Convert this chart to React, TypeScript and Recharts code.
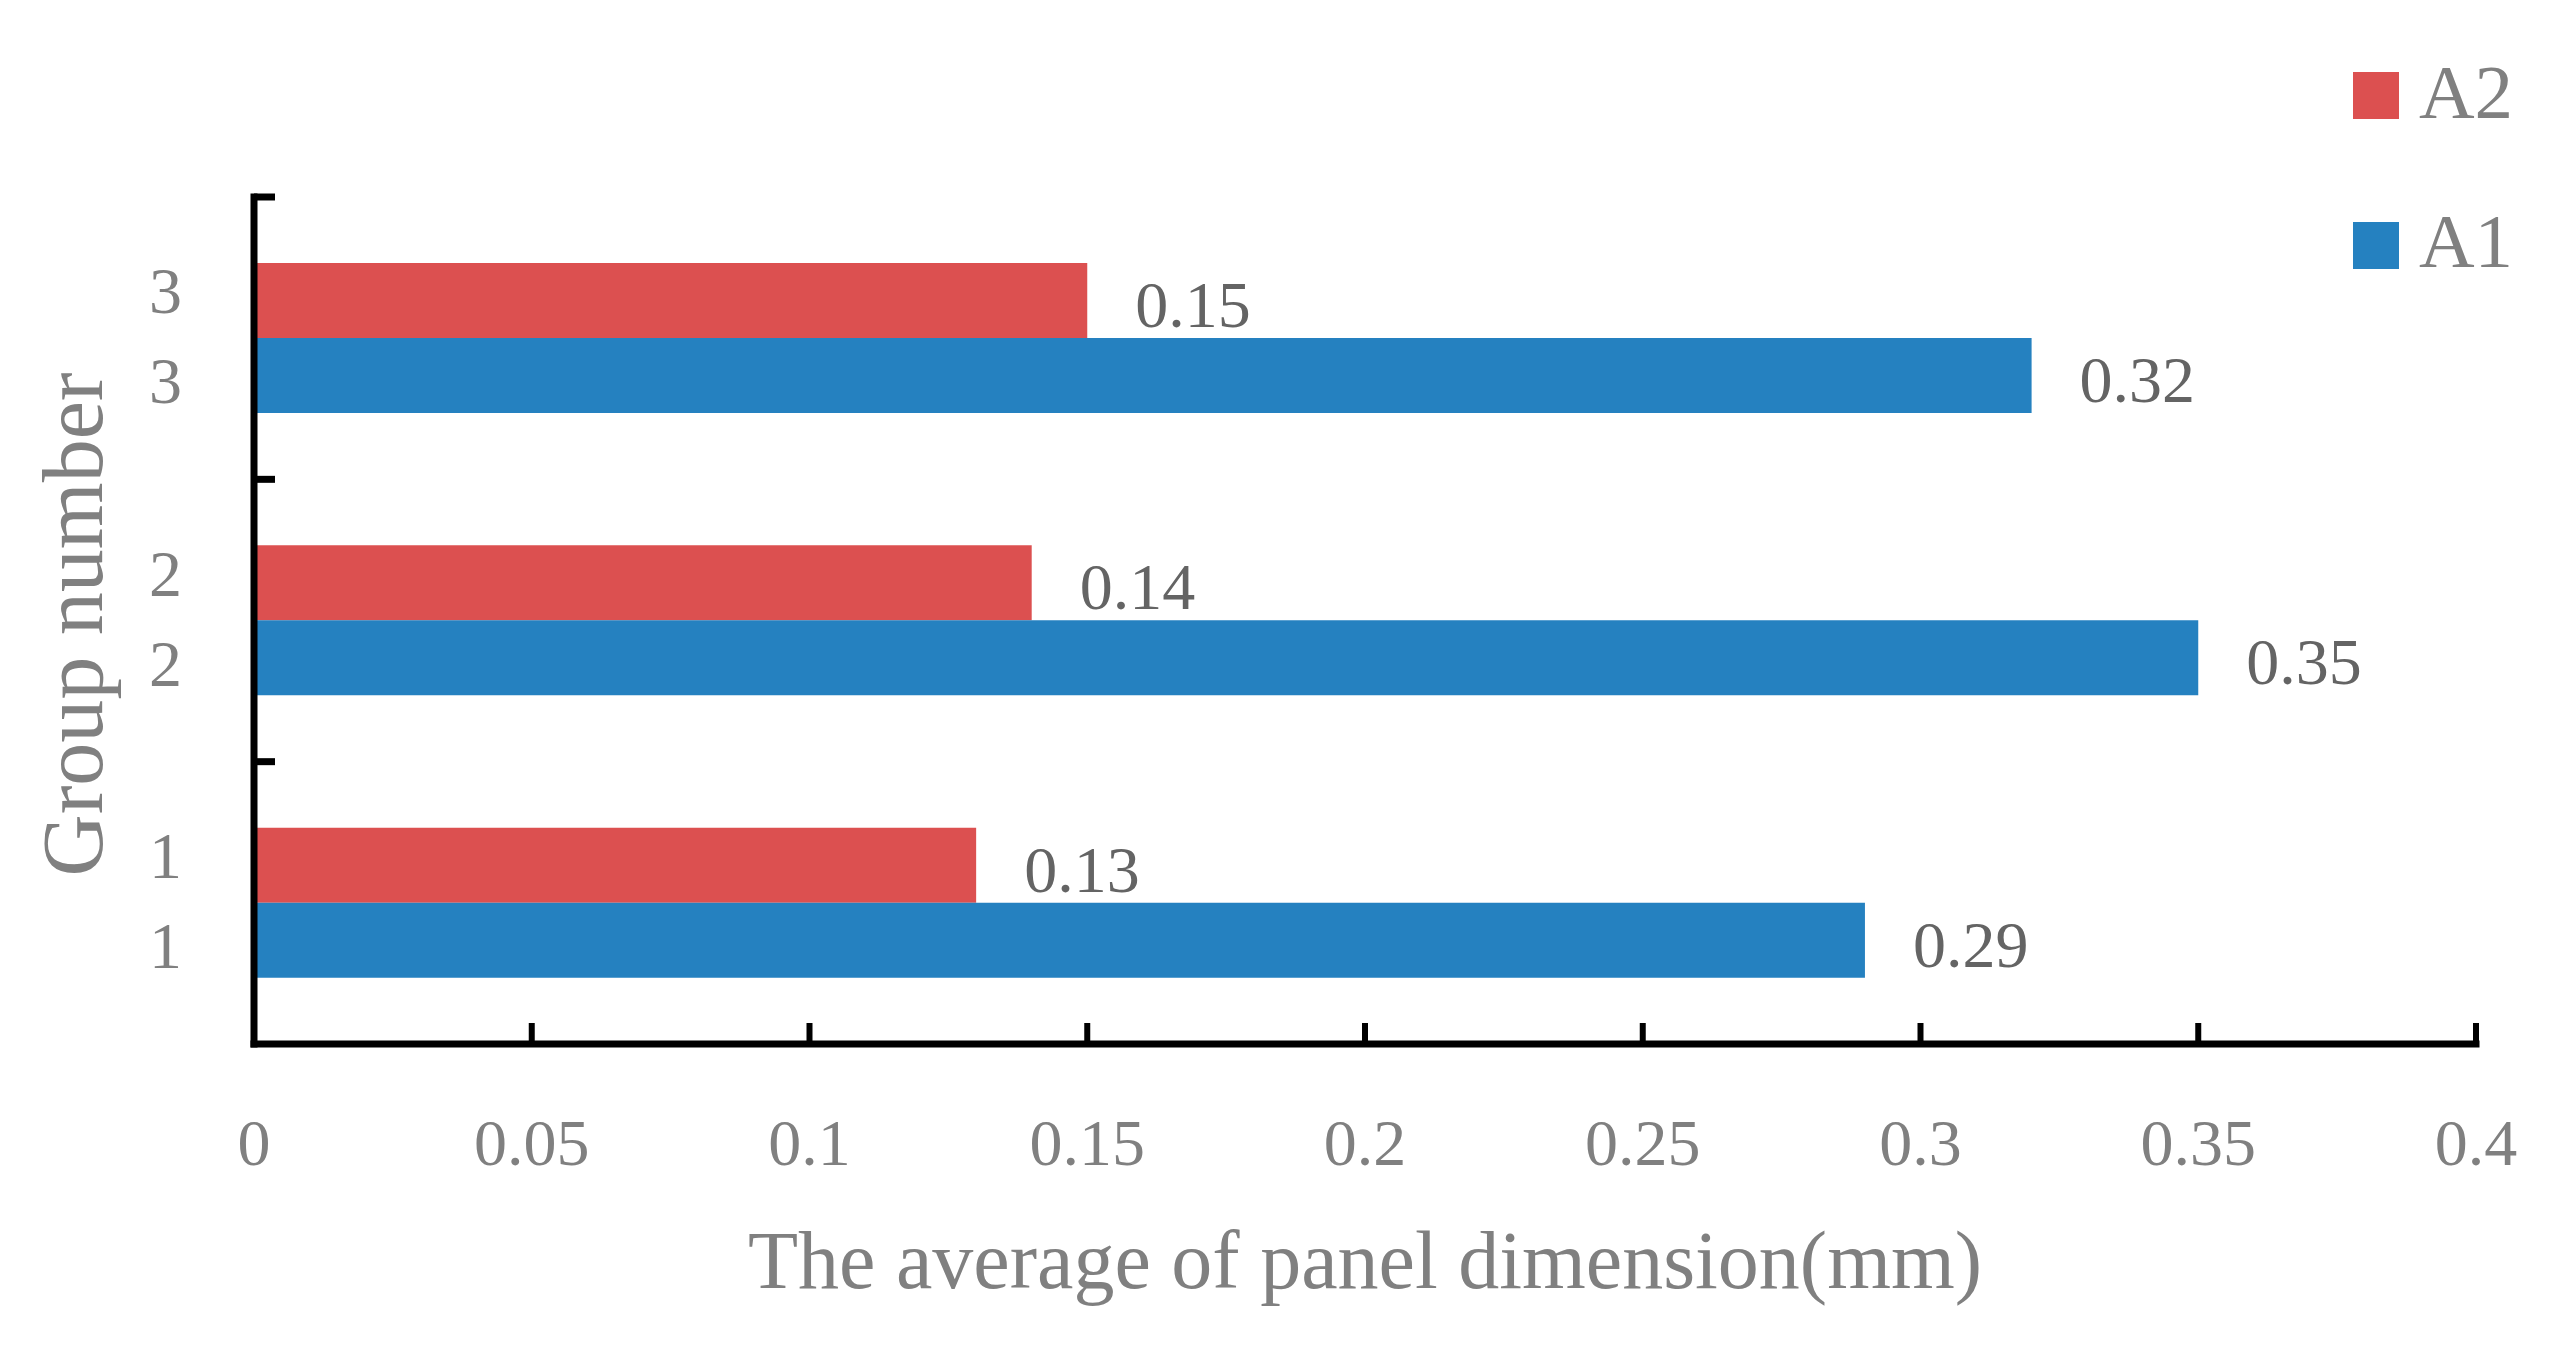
import React from 'react';
import { BarChart, Bar, XAxis, YAxis, LabelList } from 'recharts';

// group numbers, bottom to top
const groups = ['1', '2', '3'];
const a1Values = [0.29, 0.35, 0.32];
const a2Values = [0.13, 0.14, 0.15];
const xTicks = [0, 0.05, 0.1, 0.15, 0.2, 0.25, 0.3, 0.35, 0.4];
const seriesNames = ['A2', 'A1'];
const seriesColors = ['#DC5050', '#2581C0'];

const data = groups.map((g, i) => ({ group: g, A1: a1Values[i], A2: a2Values[i] }));

const FONT = '"Liberation Serif", "Times New Roman", serif';
const W = 2571;
const H = 1360;
const margin = { top: 197, right: 95, bottom: 0, left: 0 };
const yAxisWidth = 254;
const xAxisHeight = 316;
const plotHeight = H - margin.top - margin.bottom - xAxisHeight;
const band = plotHeight / groups.length;

function XTick(props: any) {
  const { x, y, payload } = props;
  return (
    <g>
      <line x1={x} x2={x} y1={y} y2={y - 21} stroke="#000" strokeWidth={6} />
      <text x={x} y={y + 121} textAnchor="middle" fontSize={66} fill="#808080" fontFamily={FONT}>
        {payload.value}
      </text>
    </g>
  );
}

function YTick(props: any) {
  const { x, y, payload } = props;
  const top = y - band / 2;
  return (
    <g>
      <line x1={x} x2={x + 21} y1={top} y2={top} stroke="#000" strokeWidth={7} />
      <text x={x - 72} y={y - 25} textAnchor="end" fontSize={66} fill="#808080" fontFamily={FONT}>
        {payload.value}
      </text>
      <text x={x - 72} y={y + 65} textAnchor="end" fontSize={66} fill="#808080" fontFamily={FONT}>
        {payload.value}
      </text>
    </g>
  );
}

function XTitle(props: any) {
  const vb = props.viewBox || { x: yAxisWidth, y: H - xAxisHeight, width: W - yAxisWidth - margin.right };
  return (
    <text x={vb.x + vb.width / 2} y={vb.y + 244} textAnchor="middle" fontSize={82} fill="#808080" fontFamily={FONT}>
      The average of panel dimension(mm)
    </text>
  );
}

function YTitle(props: any) {
  const vb = props.viewBox || { x: 0, y: margin.top, height: plotHeight };
  const cx = vb.x + 102;
  const cy = vb.y + vb.height / 2 + 4;
  return (
    <text
      x={cx}
      y={cy}
      transform={`rotate(-90, ${cx}, ${cy})`}
      textAnchor="middle"
      fontSize={86}
      fill="#808080"
      fontFamily={FONT}
    >
      Group number
    </text>
  );
}

export default function App() {
  return (
    <div style={{ position: 'relative', width: W, height: H, background: '#fff' }}>
      <style>{'body{margin:0}'}</style>
      <BarChart width={W} height={H} data={data} layout="vertical" margin={margin} barGap={0}>
        <XAxis
          type="number"
          domain={[0, 0.4]}
          ticks={xTicks}
          interval={0}
          height={xAxisHeight}
          axisLine={{ stroke: '#000', strokeWidth: 7, strokeLinecap: 'square' }}
          tickLine={false}
          tickSize={0}
          tickMargin={0}
          tick={<XTick />}
          label={<XTitle />}
        />
        <YAxis
          type="category"
          dataKey="group"
          reversed
          width={yAxisWidth}
          axisLine={{ stroke: '#000', strokeWidth: 7, strokeLinecap: 'square' }}
          tickLine={false}
          tickSize={0}
          tickMargin={0}
          tick={<YTick />}
          label={<YTitle />}
        />
        {seriesNames.map((name, i) => (
          <Bar key={name} dataKey={name} fill={seriesColors[i]} barSize={75} isAnimationActive={false}>
            <LabelList
              dataKey={name}
              position="right"
              offset={48}
              fontSize={66}
              fill="#646464"
              fontFamily={FONT}
              dy={3}
            />
          </Bar>
        ))}
      </BarChart>
      <svg width={W} height={H} style={{ position: 'absolute', left: 0, top: 0, pointerEvents: 'none' }}>
        {seriesNames.map((name, i) => (
          <g key={name}>
            <rect x={2353} y={72 + i * 150} width={46} height={47} fill={seriesColors[i]} />
            <text x={2419} y={118 + i * 149} fontSize={77} fill="#808080" fontFamily={FONT}>
              {name}
            </text>
          </g>
        ))}
      </svg>
    </div>
  );
}
